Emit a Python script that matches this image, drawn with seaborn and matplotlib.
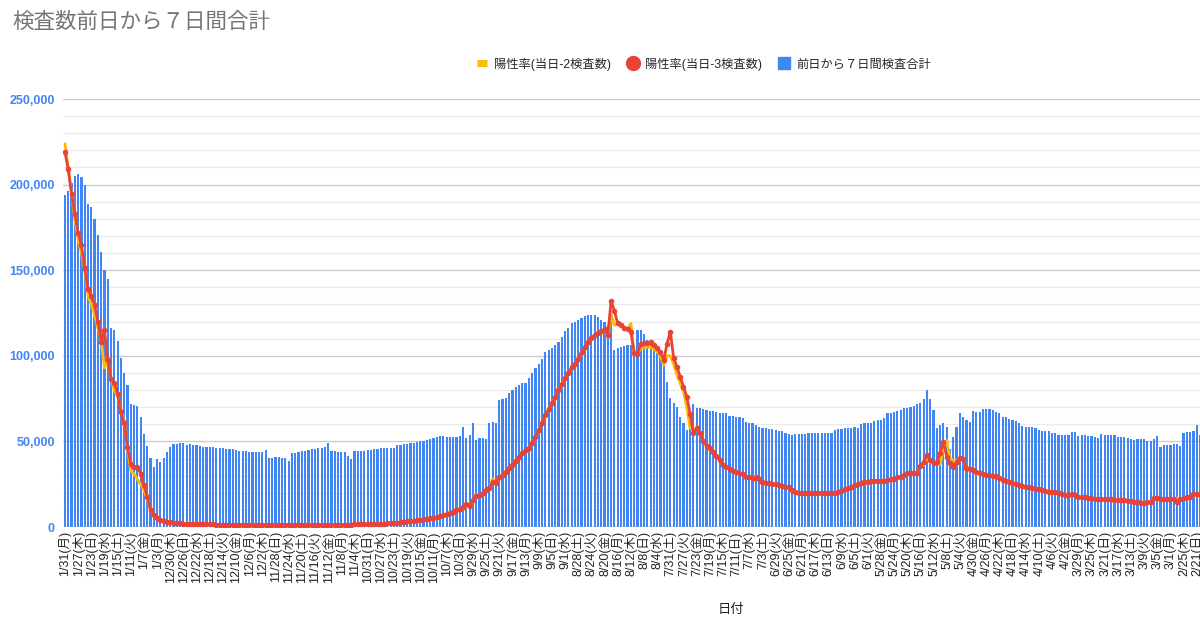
import pandas as pd
import matplotlib
matplotlib.use('Agg')
import matplotlib.pyplot as plt
from matplotlib.lines import Line2D
from matplotlib.ticker import MultipleLocator, FuncFormatter
import seaborn as sns

# 前日から7日間検査合計 (左端 = 2022/1/31, 右へ行くほど過去)
tests = [
    193800, 196300, 201000, 205000, 206200, 204700, 199600, 188900, 187000, 180000,
    170600, 160500, 150400, 144700, 116000, 115100, 108800, 98500, 90100, 82900,
    71800, 71100, 70700, 64400, 54300, 47300, 40100, 35200, 39700, 37800,
    40100, 43600, 46900, 48500, 48500, 49300, 49300, 47900, 48500, 47900,
    47900, 47300, 46900, 46900, 46500, 46900, 46000, 46000, 46000, 45400,
    45400, 45400, 45000, 44600, 44600, 44200, 44000, 44000, 44000, 43600,
    43600, 45000, 40100, 40400, 40600, 40600, 40400, 40100, 38800, 43000,
    43000, 43600, 44200, 44600, 44900, 45400, 45800, 46200, 46200, 46600,
    48900, 44500, 44500, 44000, 43600, 43600, 41700, 39600, 44500, 44500,
    44500, 44500, 45000, 45000, 45400, 45400, 46000, 46000, 46000, 46200,
    46200, 47800, 48000, 48300, 48500, 49100, 49100, 49500, 50000, 50500,
    51000, 51500, 52000, 52500, 53000, 53000, 52800, 52800, 52800, 52800,
    53200, 58200, 52000, 54000, 60500, 51000, 51800, 52200, 51400, 60500,
    61100, 60500, 74100, 74600, 75100, 78000, 80000, 81900, 82900, 84200,
    84200, 86800, 89700, 92600, 95500, 98400, 102300, 103300, 104300, 106200,
    108200, 111100, 114600, 116500, 118900, 119800, 120800, 122200, 123300, 124100,
    124100, 123700, 122800, 121200, 119800, 117900, 120000, 103300, 104300, 104900,
    105800, 106200, 106200, 103300, 115000, 115000, 113000, 109100, 107200, 105300,
    103300, 100400, 98400, 84800, 75100, 72200, 70200, 64400, 60500, 56600,
    66300, 71800, 69300, 69800, 68700, 68300, 67900, 67700, 67300, 66700,
    66300, 66300, 65000, 65000, 64400, 64000, 63400, 61500, 60900, 60500,
    59500, 58600, 57600, 58000, 57200, 57000, 56600, 56200, 56200, 55100,
    54300, 53700, 54300, 54300, 54300, 54300, 55100, 55100, 55100, 55100,
    55100, 55100, 55100, 55100, 56600, 57000, 57000, 57600, 57600, 57600,
    58600, 58000, 60100, 60500, 60500, 60900, 62100, 62500, 62500, 63400,
    66300, 66300, 67300, 67900, 68300, 69300, 69800, 70200, 70600, 71600,
    72500, 74500, 80000, 74500, 68300, 57600, 59500, 60500, 58600, 45300,
    52700, 58200, 66300, 64000, 62500, 61100, 67900, 67300, 67300, 68700,
    68700, 68700, 68300, 67300, 66300, 64400, 64000, 62800, 62500, 62100,
    60500, 58900, 58200, 58200, 58200, 57600, 56600, 56200, 56200, 56200,
    55100, 54700, 53700, 53700, 53700, 53700, 55600, 55600, 53100, 53700,
    53700, 53100, 53100, 52300, 51800, 54300, 53700, 53700, 53700, 53700,
    52300, 52300, 52300, 51800, 51200, 50800, 51200, 51200, 51200, 50400,
    50400, 51200, 53100, 46500, 47900, 47900, 47900, 48400, 48400, 47300,
    55100, 55600, 55600, 56200, 59300, 53700,
]

# 陽性率(当日-3検査数) %
rate3 = [
    39.4, 37.6, 35.0, 32.9, 30.9, 29.6, 27.2, 25.0, 24.3, 23.3,
    21.6, 19.5, 20.7, 17.6, 15.6, 15.1, 14.0, 12.1, 10.9, 8.4,
    6.6, 6.3, 6.3, 5.6, 4.4, 3.2, 1.8, 1.26, 0.92, 0.74,
    0.63, 0.56, 0.49, 0.45, 0.41, 0.38, 0.36, 0.34, 0.32, 0.31,
    0.29, 0.27, 0.27, 0.27, 0.27, 0.27, 0.26, 0.26, 0.26, 0.25,
    0.25, 0.24, 0.24, 0.23, 0.23, 0.23, 0.22, 0.22, 0.22, 0.22,
    0.22, 0.22, 0.22, 0.22, 0.22, 0.22, 0.22, 0.22, 0.22, 0.22,
    0.22, 0.22, 0.22, 0.22, 0.22, 0.22, 0.22, 0.23, 0.23, 0.23,
    0.23, 0.24, 0.24, 0.24, 0.24, 0.25, 0.25, 0.25, 0.27, 0.27,
    0.29, 0.29, 0.31, 0.31, 0.32, 0.32, 0.34, 0.36, 0.38, 0.41,
    0.45, 0.47, 0.50, 0.54, 0.58, 0.61, 0.65, 0.70, 0.76, 0.81,
    0.85, 0.90, 0.95, 1.01, 1.12, 1.22, 1.33, 1.46, 1.60, 1.75,
    1.89, 2.12, 2.38, 2.21, 2.84, 3.29, 3.37, 3.53, 3.89, 4.07,
    4.77, 4.66, 5.29, 5.47, 5.81, 6.16, 6.52, 6.97, 7.38, 7.81,
    8.08, 8.26, 8.78, 9.49, 10.19, 10.89, 11.77, 12.37, 13.0, 13.7,
    14.4, 15.03, 15.62, 16.22, 16.78, 17.12, 17.71, 18.41, 18.88, 19.48,
    19.82, 20.18, 20.41, 20.63, 20.77, 20.18, 23.78, 22.73, 21.40, 21.22,
    20.97, 20.77, 20.52, 18.32, 18.18, 19.22, 19.30, 19.30, 19.48, 19.12,
    18.77, 18.41, 17.55, 19.26, 20.52, 17.82, 16.85, 15.79, 14.74, 13.70,
    11.93, 9.85, 10.37, 9.90, 9.07, 8.51, 8.26, 7.92, 7.45, 7.04,
    6.52, 6.34, 6.07, 5.92, 5.81, 5.71, 5.56, 5.29, 5.22, 5.11,
    5.22, 5.00, 4.77, 4.66, 4.59, 4.52, 4.52, 4.41, 4.30, 4.23,
    4.18, 3.89, 3.71, 3.60, 3.60, 3.60, 3.60, 3.60, 3.60, 3.60,
    3.60, 3.60, 3.53, 3.60, 3.60, 3.71, 3.82, 3.96, 4.07, 4.23,
    4.41, 4.52, 4.66, 4.77, 4.77, 4.81, 4.86, 4.86, 4.86, 4.86,
    4.93, 5.00, 5.08, 5.22, 5.29, 5.47, 5.63, 5.71, 5.71, 5.71,
    6.41, 6.86, 7.56, 7.04, 6.70, 6.86, 7.81, 8.96, 7.38, 6.70,
    6.34, 6.86, 7.22, 7.11, 6.16, 6.07, 5.99, 5.81, 5.63, 5.56,
    5.47, 5.47, 5.40, 5.36, 5.11, 4.93, 4.86, 4.77, 4.66, 4.52,
    4.45, 4.30, 4.23, 4.18, 4.14, 4.03, 3.96, 3.89, 3.78, 3.71,
    3.71, 3.67, 3.60, 3.47, 3.40, 3.37, 3.47, 3.33, 3.19, 3.11,
    3.11, 3.04, 3.01, 2.90, 2.90, 2.90, 2.90, 2.97, 2.90, 2.84,
    2.84, 2.84, 2.84, 2.77, 2.77, 2.66, 2.66, 2.56, 2.56, 2.66,
    2.66, 3.01, 3.01, 2.90, 2.90, 2.97, 2.90, 2.97, 2.66, 2.90,
    3.01, 3.11, 3.11, 3.47, 3.47, 3.47,
]

# 陽性率(当日-2検査数) %
rate2 = [
    40.3, 37.8, 35.1, 32.4, 30.2, 28.8, 27.0, 24.3, 23.4, 22.3,
    20.9, 19.6, 16.7, 17.6, 15.5, 14.4, 13.7, 12.4, 11.2, 8.1,
    5.9, 5.6, 5.0, 4.5, 3.9, 2.9, 1.8, 1.26, 0.92, 0.74,
    0.63, 0.56, 0.49, 0.45, 0.41, 0.38, 0.36, 0.34, 0.32, 0.31,
    0.29, 0.27, 0.27, 0.27, 0.27, 0.27, 0.26, 0.26, 0.26, 0.25,
    0.25, 0.24, 0.24, 0.23, 0.23, 0.23, 0.22, 0.22, 0.22, 0.22,
    0.22, 0.22, 0.22, 0.22, 0.22, 0.22, 0.22, 0.22, 0.22, 0.22,
    0.22, 0.22, 0.22, 0.22, 0.22, 0.22, 0.22, 0.23, 0.23, 0.23,
    0.23, 0.24, 0.24, 0.24, 0.24, 0.25, 0.25, 0.25, 0.27, 0.27,
    0.29, 0.29, 0.31, 0.31, 0.32, 0.32, 0.34, 0.36, 0.38, 0.41,
    0.45, 0.47, 0.50, 0.54, 0.58, 0.61, 0.65, 0.70, 0.76, 0.81,
    0.85, 0.90, 0.95, 1.01, 1.12, 1.22, 1.33, 1.46, 1.60, 1.75,
    1.89, 2.12, 2.05, 2.21, 2.84, 3.29, 3.37, 3.53, 3.89, 4.07,
    5.10, 4.66, 5.29, 5.47, 5.81, 6.16, 6.52, 6.97, 7.38, 7.81,
    8.08, 8.26, 8.78, 9.49, 10.19, 10.89, 11.77, 12.37, 13.0, 13.7,
    14.4, 15.03, 15.62, 16.22, 16.78, 17.12, 17.71, 18.41, 18.88, 19.48,
    19.82, 20.18, 20.41, 20.63, 20.77, 20.0, 22.3, 21.2, 21.40, 21.22,
    20.97, 20.77, 21.4, 18.4, 18.18, 18.8, 18.9, 18.9, 18.9, 18.7,
    18.4, 18.0, 17.0, 18.0, 18.0, 17.1, 16.0, 15.1, 14.2, 12.6,
    10.4, 10.2, 10.3, 9.90, 9.07, 8.51, 8.26, 7.92, 7.45, 7.04,
    6.52, 6.34, 6.07, 5.92, 5.81, 5.71, 5.56, 5.29, 5.22, 5.11,
    5.22, 5.00, 4.77, 4.66, 4.59, 4.52, 4.52, 4.41, 4.30, 4.23,
    4.18, 3.89, 3.71, 3.60, 3.60, 3.60, 3.60, 3.60, 3.60, 3.60,
    3.60, 3.60, 3.53, 3.60, 3.60, 3.71, 3.82, 3.96, 4.07, 4.23,
    4.41, 4.52, 4.66, 4.77, 4.77, 4.81, 4.86, 4.86, 4.86, 4.86,
    4.93, 5.00, 5.08, 5.22, 5.29, 5.47, 5.63, 5.71, 5.71, 5.71,
    6.41, 6.5, 7.2, 6.8, 6.7, 6.7, 6.6, 8.3, 9.1, 7.2,
    7.0, 7.0, 7.2, 7.11, 6.16, 6.07, 5.99, 5.81, 5.63, 5.56,
    5.47, 5.47, 5.40, 5.36, 5.11, 4.93, 4.86, 4.77, 4.66, 4.52,
    4.45, 4.30, 4.23, 4.18, 4.14, 4.03, 3.96, 3.89, 3.78, 3.71,
    3.71, 3.67, 3.60, 3.47, 3.40, 3.37, 3.47, 3.33, 3.19, 3.11,
    3.11, 3.04, 3.01, 2.90, 2.90, 2.90, 2.90, 2.97, 2.90, 2.84,
    2.84, 2.84, 2.84, 2.77, 2.77, 2.66, 2.66, 2.56, 2.56, 2.66,
    2.66, 3.01, 3.01, 2.90, 2.90, 2.97, 2.90, 2.97, 3.06, 2.90,
    3.01, 3.11, 3.11, 3.47, 3.47, 3.47,
]

weekdays = ['月', '火', '水', '木', '金', '土', '日']
dates = pd.date_range(end='2022-01-31', periods=len(tests))[::-1]
tick_labels = [f'{d.month}/{d.day}({weekdays[d.dayofweek]})' for d in dates]

df = pd.DataFrame({'pos': range(len(tests)), 'tests': tests,
                   'rate2': rate2, 'rate3': rate3})

sns.set_theme(style='white')
plt.rcParams['font.family'] = ['Liberation Sans', 'Noto Sans CJK JP', 'DejaVu Sans']

BLUE = '#4285F4'
RED = '#EA4335'
YELLOW = '#FBBC04'

fig = plt.figure(figsize=(12, 6.29), dpi=100)
ax = fig.add_axes([63 / 1200, 1 - 527 / 629, 1139 / 1200, 428 / 629])

sns.barplot(data=df, x='pos', y='tests', native_scale=True, color=BLUE,
            saturation=1, width=0.66, linewidth=0, ax=ax, zorder=3)
ax.set_xlim(-0.6, 345.6)
ax.set_ylim(0, 250000)
ax.yaxis.set_major_locator(MultipleLocator(50000))
ax.yaxis.set_minor_locator(MultipleLocator(10000))
ax.yaxis.set_major_formatter(FuncFormatter(lambda v, p: f'{int(v):,}'))
ax.grid(which='major', axis='y', color='#cccccc', lw=1, zorder=0)
ax.grid(which='minor', axis='y', color='#ebebeb', lw=1, zorder=0)
ax.set_axisbelow(True)
for s in ax.spines.values():
    s.set_visible(False)
ax.axhline(0, color='#999999', lw=1, zorder=4)

ax.set_xticks(df.pos[::4])
ax.set_xticklabels(tick_labels[::4], rotation=90, fontsize=9, color='#222222')
ax.tick_params(axis='x', length=0, pad=3)
ax.tick_params(axis='y', which='both', length=0, pad=6, labelsize=9, labelcolor=BLUE)
for t in ax.get_yticklabels():
    t.set_fontweight('bold')
ax.set_xlabel('')
ax.set_ylabel('')

ax2 = ax.twinx()
sns.lineplot(data=df, x='pos', y='rate2', color=YELLOW, lw=2, ax=ax2, zorder=5)
sns.lineplot(data=df, x='pos', y='rate3', color=RED, lw=2, marker='o',
             markersize=4, markeredgewidth=0, ax=ax2, zorder=6)
ax2.set_ylim(0, 45)
ax2.set_xlim(-0.6, 345.6)
ax2.set_yticks([])
ax2.set_ylabel('')
ax2.set_xlabel('')
for s in ax2.spines.values():
    s.set_visible(False)

fig.text(12 / 1200, 1 - 22 / 629, '検査数前日から７日間合計', fontsize=15.5,
         color='#757575', va='center', ha='left')
fig.text(731 / 1200, 1 - 610 / 629, '日付', fontsize=9.5, color='#222222',
         ha='center', va='center')

handles = [
    Line2D([], [], color=YELLOW, lw=5, solid_capstyle='butt'),
    Line2D([], [], color=RED, lw=0, marker='o', markersize=10),
    Line2D([], [], color=BLUE, lw=0, marker='s', markersize=9),
]
labels = ['陽性率(当日-2検査数)', '陽性率(当日-3検査数)', '前日から７日間検査合計']
fig.legend(handles, labels, loc='center', bbox_to_anchor=(704 / 1200, 1 - 64 / 629),
           ncol=3, frameon=False, fontsize=8.8, handlelength=0.8,
           handletextpad=0.6, columnspacing=1.4)

fig.savefig('out.png', dpi=100)
